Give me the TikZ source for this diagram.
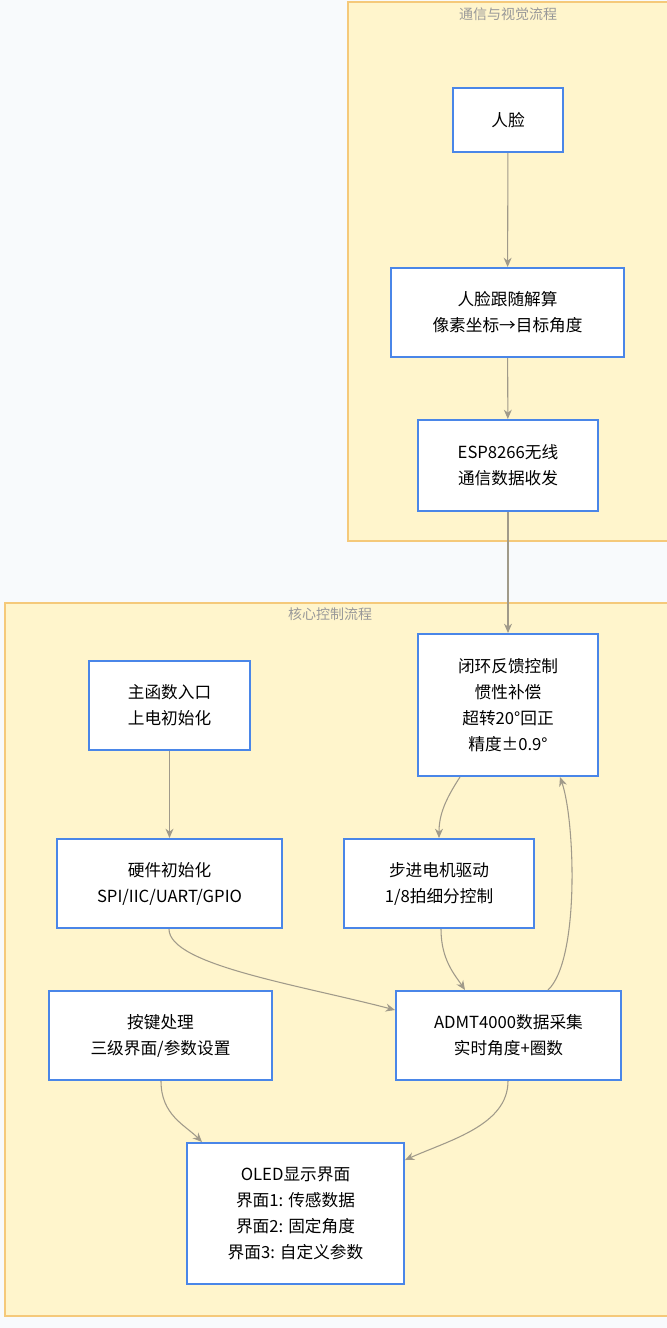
\documentclass[tikz,border=0pt]{standalone}
\usepackage{fontspec}
\setmainfont{Noto Sans CJK SC}
\usetikzlibrary{arrows.meta}
\definecolor{bg}{HTML}{F8FAFC}
\definecolor{clfill}{HTML}{FFF5CC}
\definecolor{clborder}{HTML}{F5C97A}
\definecolor{nodeb}{HTML}{4A86E8}
\definecolor{edgec}{HTML}{A09A8A}
\definecolor{titlec}{HTML}{999999}
\tikzset{
  cluster/.style={draw=clborder,fill=clfill,line width=0.8pt},
  box/.style={draw=nodeb,fill=white,line width=1.5pt,align=center,font=\fontsize{12.5}{19.5}\selectfont},
  edge/.style={draw=edgec,line width=0.8pt,-{Stealth[length=7pt,width=6pt]}},
  ctitle/.style={text=titlec,font=\fontsize{10.5}{12}\selectfont}
}
\newcommand{\bx}[6]{\node[box,minimum width=#4*0.75pt,minimum height=#5*0.75pt,inner sep=0pt] (#1) at (#2*0.75pt,-#3*0.75pt) {#6};}
\begin{document}
\begin{tikzpicture}
\fill[bg] (0,0) rectangle (667*0.75pt,-1328*0.75pt);
\useasboundingbox (0,0) rectangle (667*0.75pt,-1328*0.75pt);
\draw[cluster] (348*0.75pt,-2*0.75pt) rectangle (668*0.75pt,-541*0.75pt);
\node[ctitle] (t1) at (508*0.75pt,-14*0.75pt) {通信与视觉流程};
\draw[cluster] (5*0.75pt,-603*0.75pt) rectangle (668*0.75pt,-1316*0.75pt);
\node[ctitle] (t2) at (330*0.75pt,-614*0.75pt) {核心控制流程};
\bx{face}{508}{120}{110}{64}{人脸}
\bx{solve}{507.5}{312.5}{233}{89}{人脸跟随解算\\像素坐标→目标角度}
\bx{esp}{508}{465.5}{180}{91}{ESP8266无线\\通信数据收发}
\bx{loop}{508}{705}{180}{142}{闭环反馈控制\\惯性补偿\\超转20°回正\\精度±0.9°}
\bx{main}{169.5}{705.5}{161}{89}{主函数入口\\上电初始化}
\bx{hw}{169.5}{883.5}{225}{89}{硬件初始化\\SPI/IIC/UART/GPIO}
\bx{step}{439}{883.5}{190}{89}{步进电机驱动\\1/8拍细分控制}
\bx{key}{160.5}{1035.5}{223}{89}{按键处理\\三级界面/参数设置}
\bx{admt}{508.5}{1035.5}{225}{89}{ADMT4000数据采集\\实时角度+圈数}
\bx{oled}{295.5}{1213.5}{217}{141}{OLED显示界面\\界面1: 传感数据\\界面2: 固定角度\\界面3: 自定义参数}
\draw[edge] (face) -- (solve);
\draw[edge] (solve) -- (esp);
\draw[edge] (esp) -- (loop);
\draw[edge] (main) -- (hw);
\draw[edge] (loop.south -| 460*0.75pt,0) .. controls (445*0.75pt,-800*0.75pt) and (439*0.75pt,-815*0.75pt) .. (step.north -| 439*0.75pt,0);
\draw[edge] (step.south -| 441*0.75pt,0) .. controls (441*0.75pt,-960*0.75pt) and (455*0.75pt,-975*0.75pt) .. (admt.north -| 465*0.75pt,0);
\draw[edge] (hw.south -| 169*0.75pt,0) .. controls (169*0.75pt,-965*0.75pt) and (300*0.75pt,-985*0.75pt) .. (admt.west |- 0,-1010*0.75pt);
\draw[edge] (admt.north -| 548*0.75pt,0) .. controls (580*0.75pt,-960*0.75pt) and (575*0.75pt,-820*0.75pt) .. (loop.south -| 560*0.75pt,0);
\draw[edge] (key.south -| 161*0.75pt,0) .. controls (161*0.75pt,-1115*0.75pt) and (185*0.75pt,-1125*0.75pt) .. (oled.north -| 202*0.75pt,0);
\draw[edge] (admt.south -| 508*0.75pt,0) .. controls (508*0.75pt,-1125*0.75pt) and (450*0.75pt,-1140*0.75pt) .. (oled.east |- 0,-1160*0.75pt);
\end{tikzpicture}
\end{document}
